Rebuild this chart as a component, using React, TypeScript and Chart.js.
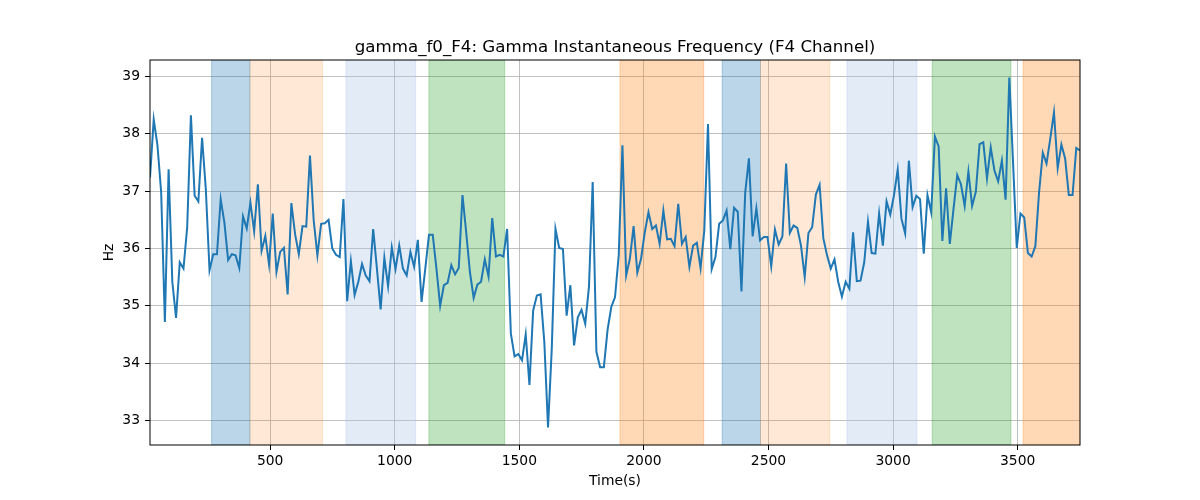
import { useEffect, useRef } from "react";
import { Chart, registerables } from "chart.js";

Chart.register(...registerables);

// ---- data ----
const TIME_START = 17.7;
const TIME_STEP = 14.93;

const FREQ_HZ = [
  37.24, 38.25, 37.8, 36.98, 34.72, 37.38, 35.42, 34.79, 35.76, 35.65,
  36.37, 38.32, 36.92, 36.82, 37.93, 37.04, 35.62, 35.9, 35.9, 36.86,
  36.45, 35.8, 35.9, 35.88, 35.66, 36.56, 36.35, 36.8, 36.3, 37.12,
  35.96, 36.22, 35.72, 36.61, 35.59, 35.94, 36.01, 35.2, 36.79, 36.25,
  35.9, 36.39, 36.38, 37.62, 36.49, 35.88, 36.43, 36.44, 36.5, 36.0,
  35.89, 35.85,
  36.86, 35.08, 35.78, 35.19, 35.42, 35.73, 35.53, 35.43, 36.34, 35.65,
  34.94, 35.84, 35.34, 36.02, 35.64, 36.05, 35.65, 35.53, 35.94, 35.68,
  36.15, 35.07, 35.65, 36.24, 36.24, 35.65, 35.0, 35.36, 35.4, 35.71,
  35.55, 35.66, 36.93, 36.28, 35.59, 35.14, 35.37, 35.42, 35.81, 35.51,
  36.53, 35.86, 35.89, 35.86, 36.34, 34.52, 34.12, 34.16, 34.05, 34.5,
  33.62,
  34.92, 35.18, 35.2, 34.37, 32.88, 34.25, 36.34, 36.01, 35.99, 34.83,
  35.36, 34.31, 34.8, 34.93, 34.69, 35.33, 37.16, 34.2, 33.93, 33.93,
  34.58, 34.98, 35.15, 35.88, 37.8, 35.53, 35.82, 36.39, 35.58, 35.82,
  36.28, 36.63, 36.34, 36.4, 36.08, 36.66, 36.16, 36.17, 36.04, 36.78,
  36.08, 36.2, 35.68, 36.05, 36.1, 35.66, 36.31, 38.17, 35.64, 35.85,
  36.43,
  36.49, 36.66, 35.99, 36.71, 36.64, 35.25, 36.97, 37.57, 36.21, 36.7,
  36.14, 36.2, 36.2, 35.69, 36.33, 36.07, 36.21, 37.48, 36.27, 36.4,
  36.36, 36.05, 35.5, 36.27, 36.37, 36.94, 37.11, 36.18, 35.88, 35.65,
  35.81, 35.42, 35.16, 35.42, 35.3, 36.28, 35.43, 35.44, 35.76, 36.47,
  35.92, 35.91, 36.61, 36.05, 36.82, 36.59, 36.93, 37.38, 36.52, 36.26,
  37.53,
  36.72, 36.92, 36.86, 35.91, 36.93, 36.63, 37.95, 37.78, 36.13, 37.05,
  36.08, 36.69, 37.28, 37.12, 36.74, 37.34, 36.74, 36.99, 37.82, 37.85,
  37.22, 37.76, 37.36, 37.17, 37.53, 36.85, 38.98, 37.5, 36.01, 36.61,
  36.54, 35.92, 35.86, 36.04, 36.98, 37.67, 37.48, 37.91, 38.37, 37.4,
  37.81, 37.57, 36.93, 36.93, 37.75, 37.71,
];

const TIMES = FREQ_HZ.map((_, i) => TIME_START + i * TIME_STEP);

const X_TICKS = [500, 1000, 1500, 2000, 2500, 3000, 3500];
const Y_TICKS = [33, 34, 35, 36, 37, 38, 39];

const BAND_STARTS = [265, 419, 804, 1137, 1904, 2314, 2468, 2815, 3157, 3522];
const BAND_ENDS = [419, 710, 1084, 1441, 2240, 2468, 2746, 3096, 3473, 3751];
const BAND_COLORS = [
  "rgba(31,119,180,0.3)",
  "rgba(255,127,14,0.17)",
  "rgba(174,199,232,0.35)",
  "rgba(44,160,44,0.3)",
  "rgba(255,127,14,0.3)",
  "rgba(31,119,180,0.3)",
  "rgba(255,127,14,0.17)",
  "rgba(174,199,232,0.35)",
  "rgba(44,160,44,0.3)",
  "rgba(255,127,14,0.3)",
];

const TITLE = "gamma_f0_F4: Gamma Instantaneous Frequency (F4 Channel)";
const X_LABEL = "Time(s)";
const Y_LABEL = "Hz";

const FONT = "'DejaVu Sans', sans-serif";

const bandsPlugin = {
  id: "bands",
  beforeDatasetsDraw(chart: any) {
    const { ctx, chartArea, scales } = chart;
    const xs = scales.x;
    ctx.save();
    ctx.beginPath();
    ctx.rect(chartArea.left, chartArea.top, chartArea.right - chartArea.left, chartArea.bottom - chartArea.top);
    ctx.clip();
    for (let i = 0; i < BAND_STARTS.length; i++) {
      const x0 = xs.getPixelForValue(BAND_STARTS[i]);
      const x1 = xs.getPixelForValue(BAND_ENDS[i]);
      ctx.fillStyle = BAND_COLORS[i];
      ctx.fillRect(x0, chartArea.top, x1 - x0, chartArea.bottom - chartArea.top);
      ctx.strokeStyle = BAND_COLORS[i];
      ctx.lineWidth = 1;
      ctx.strokeRect(x0, chartArea.top, x1 - x0, chartArea.bottom - chartArea.top);
    }
    ctx.restore();
  },
  afterDraw(chart: any) {
    const { ctx, chartArea } = chart;
    ctx.save();
    ctx.strokeStyle = "#000";
    ctx.lineWidth = 1;
    ctx.strokeRect(chartArea.left, chartArea.top, chartArea.right - chartArea.left, chartArea.bottom - chartArea.top);
    // title centred over the axes, as matplotlib does
    ctx.fillStyle = "#000";
    ctx.font = `16.67px ${FONT}`;
    ctx.textAlign = "center";
    ctx.textBaseline = "alphabetic";
    ctx.fillText(TITLE, (chartArea.left + chartArea.right) / 2, chartArea.top - 8);
    ctx.restore();
  },
};

export default function App() {
  const ref = useRef<HTMLCanvasElement>(null);

  useEffect(() => {
    const canvas = ref.current;
    if (!canvas) return;
    const yMinData = Math.min(...FREQ_HZ);
    const yMaxData = Math.max(...FREQ_HZ);
    const margin = (yMaxData - yMinData) * 0.05;

    const chart = new Chart(canvas, {
      type: "line",
      data: {
        datasets: [
          {
            data: TIMES.map((t, i) => ({ x: t, y: FREQ_HZ[i] })),
            borderColor: "#1f77b4",
            borderWidth: 2,
            pointRadius: 0,
            tension: 0,
            fill: false,
          },
        ],
      },
      options: {
        animation: false,
        responsive: false,
        devicePixelRatio: 1,
        layout: { padding: { left: 0, right: 120, top: 60, bottom: 0 } },
        plugins: {
          legend: { display: false },
          tooltip: { enabled: false },
          title: { display: false },
        },
        scales: {
          x: {
            type: "linear",
            min: TIMES[0],
            max: TIMES[TIMES.length - 1],
            afterBuildTicks: (s: any) => {
              s.ticks = X_TICKS.map((v) => ({ value: v }));
            },
            afterFit: (s: any) => {
              s.height = 55;
            },
            grid: {
              color: "#b0b0b0",
              lineWidth: 0.8,
              tickColor: "#000",
              tickLength: 5,
              tickWidth: 1,
            },
            border: { display: false },
            ticks: {
              color: "#000",
              font: { family: FONT, size: 13.89 },
              padding: 3,
              maxRotation: 0,
              callback: (v: any) => String(v),
            },
            title: {
              display: true,
              text: X_LABEL,
              color: "#000",
              font: { family: FONT, size: 13.89 },
              padding: { top: 0, bottom: 10.5 },
            },
          },
          y: {
            type: "linear",
            min: yMinData - margin,
            max: yMaxData + margin,
            afterBuildTicks: (s: any) => {
              s.ticks = Y_TICKS.map((v) => ({ value: v }));
            },
            afterFit: (s: any) => {
              s.width = 150;
            },
            grid: {
              color: "#b0b0b0",
              lineWidth: 0.8,
              tickColor: "#000",
              tickLength: 5,
              tickWidth: 1,
            },
            border: { display: false },
            ticks: {
              color: "#000",
              font: { family: FONT, size: 13.89 },
              padding: 5,
              callback: (v: any) => String(v),
            },
            title: {
              display: true,
              text: Y_LABEL,
              color: "#000",
              font: { family: FONT, size: 13.89 },
              padding: { top: 101.5, bottom: 0 },
            },
          },
        },
      },
      plugins: [bandsPlugin],
    } as any);

    return () => chart.destroy();
  }, []);

  return (
    <canvas
      ref={ref}
      width={1200}
      height={500}
      style={{ position: "absolute", left: 0, top: 0, width: 1200, height: 500 }}
    />
  );
}
